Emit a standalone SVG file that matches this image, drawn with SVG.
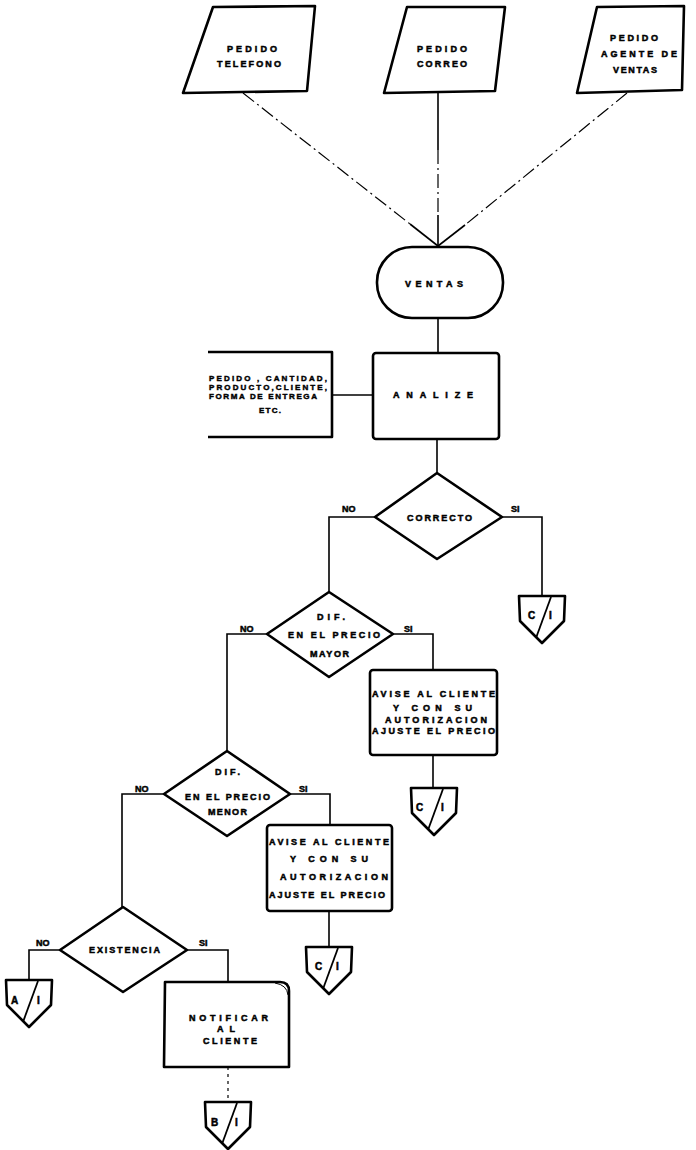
<svg xmlns="http://www.w3.org/2000/svg" xmlns:xlink="http://www.w3.org/1999/xlink" width="696" height="1150" viewBox="0 0 696 1150">
  <style>
    .shape { fill: #fff; stroke: #000; stroke-width: 2.6; stroke-linejoin: round; }
    .wire { fill: none; stroke: #000; stroke-width: 1.6; }
    .dash { fill: none; stroke: #000; stroke-width: 1.2; stroke-dasharray: 14 4 2 4; }
    .dot { fill: none; stroke: #000; stroke-width: 1.2; stroke-dasharray: 3 4; }
    .t { font-family: "Liberation Sans", Arial, sans-serif; font-weight: bold; font-size: 9px; fill: #000; stroke: #000; stroke-width: 0.5; }
    .s { font-family: "Liberation Sans", Arial, sans-serif; font-weight: bold; font-size: 8px; fill: #000; stroke: #000; stroke-width: 0.45; }
    .lbl { font-family: "Liberation Sans", Arial, sans-serif; font-weight: bold; font-size: 9px; fill: #000; stroke: #000; stroke-width: 0.5; }
    .k { font-family: "Liberation Sans", Arial, sans-serif; font-weight: bold; font-size: 10px; fill: #000; stroke: #000; stroke-width: 0.5; }
  </style>
  <defs>
    <!-- off-page connector: pentagon with a slash -->
    <g id="offpage">
      <path class="shape" d="M1,0 H47 L46,25 L24,47 L2,25 Z"/>
      <line x1="18" y1="42" x2="33" y2="1" stroke="#000" stroke-width="1.8"/>
    </g>
  </defs>

  <rect width="696" height="1150" fill="#fff"/>

  <!-- connectors -->
  <g id="connectors">
    <!-- order inputs converging on VENTAS -->
    <line class="dash" x1="243" y1="93" x2="410" y2="224"/>
    <line class="wire" x1="410" y1="224" x2="438" y2="246"/>
    <line class="wire" x1="438" y1="91" x2="438" y2="150"/>
    <line class="dash" x1="438" y1="150" x2="438" y2="215"/>
    <line class="wire" x1="438" y1="215" x2="438" y2="247"/>
    <line class="dash" x1="627" y1="93" x2="465" y2="225"/>
    <line class="wire" x1="465" y1="225" x2="438" y2="246"/>
    <!-- main flow -->
    <line class="wire" x1="438" y1="318" x2="438" y2="353"/>
    <line class="wire" x1="332" y1="395" x2="373" y2="395"/>
    <line class="wire" x1="437" y1="439" x2="437" y2="473"/>
    <!-- CORRECTO -->
    <polyline class="wire" points="375,517 329,517 329,592"/>
    <polyline class="wire" points="502,517 542,517 542,596"/>
    <!-- DIF. MAYOR -->
    <polyline class="wire" points="267,634 227,634 227,751"/>
    <polyline class="wire" points="393,634 433,634 433,670"/>
    <line class="wire" x1="433" y1="755" x2="433" y2="788"/>
    <!-- DIF. MENOR -->
    <polyline class="wire" points="164,794 122,794 122,907"/>
    <polyline class="wire" points="290,794 330,794 330,825"/>
    <line class="wire" x1="329" y1="911" x2="329" y2="947"/>
    <!-- EXISTENCIA -->
    <polyline class="wire" points="60,950 29,950 29,980"/>
    <polyline class="wire" points="187,950 228,950 228,982"/>
    <line class="dot" x1="228" y1="1067" x2="228" y2="1102"/>
  </g>

  <!-- order inputs -->
  <g id="pedido-telefono">
    <path class="shape" d="M213,7 L315,6 L307,91 L183,93 Z"/>
    <text class="t" x="227" y="52" textLength="50" lengthAdjust="spacing">PEDIDO</text>
    <text class="t" x="217" y="67" textLength="64" lengthAdjust="spacing">TELEFONO</text>
  </g>
  <g id="pedido-correo">
    <path class="shape" d="M407,7 L505,7 L495,91 L384,93 Z"/>
    <text class="t" x="417" y="52" textLength="50" lengthAdjust="spacing">PEDIDO</text>
    <text class="t" x="417" y="67" textLength="50" lengthAdjust="spacing">CORREO</text>
  </g>
  <g id="pedido-agente">
    <path class="shape" d="M597,7 L684,6 L682,90 L577,93 Z"/>
    <text class="t" x="610" y="41" textLength="48" lengthAdjust="spacing">PEDIDO</text>
    <text class="t" x="601" y="57" textLength="76" lengthAdjust="spacing">AGENTE DE</text>
    <text class="t" x="613" y="73" textLength="44" lengthAdjust="spacing">VENTAS</text>
  </g>

  <!-- VENTAS terminal -->
  <g id="ventas">
    <rect class="shape" x="377" y="247" width="126" height="71" rx="35" ry="35"/>
    <text class="t" x="405" y="287" textLength="58" lengthAdjust="spacing" font-size="10">VENTAS</text>
  </g>

  <!-- annotation -->
  <g id="datos-pedido">
    <path class="shape" d="M208,352 H332 V437 H208" fill="#fff"/>
    <text class="s" x="209" y="381" textLength="118" lengthAdjust="spacing">PEDIDO , CANTIDAD,</text>
    <text class="s" x="209" y="390" textLength="118" lengthAdjust="spacing">PRODUCTO,CLIENTE,</text>
    <text class="s" x="209" y="399" textLength="108" lengthAdjust="spacing">FORMA DE ENTREGA</text>
    <text class="s" x="259" y="413" textLength="22" lengthAdjust="spacing">ETC.</text>
  </g>

  <!-- ANALIZE -->
  <g id="analize">
    <rect class="shape" x="373" y="353" width="126" height="86" rx="3"/>
    <text class="t" x="393" y="398" textLength="80" lengthAdjust="spacing">ANALIZE</text>
  </g>

  <!-- CORRECTO decision -->
  <g id="correcto">
    <path class="shape" d="M437,473 L502,517 L437,559 L375,517 Z"/>
    <text class="t" x="407" y="521" textLength="65" lengthAdjust="spacing">CORRECTO</text>
    <text class="lbl" x="342" y="512">NO</text>
    <text class="lbl" x="511" y="512">SI</text>
  </g>
  <g id="conn-c1-a">
    <use xlink:href="#offpage" x="518" y="596"/>
    <text class="k" x="528" y="619">C</text>
    <text class="k" x="549" y="619">I</text>
  </g>

  <!-- DIF. EN EL PRECIO MAYOR -->
  <g id="dif-mayor">
    <path class="shape" d="M329,592 L393,634 L329,677 L267,634 Z"/>
    <text class="t" x="317" y="620" textLength="28" lengthAdjust="spacing">DIF.</text>
    <text class="t" x="288" y="638" textLength="92" lengthAdjust="spacing">EN EL PRECIO</text>
    <text class="t" x="310" y="657" textLength="39" lengthAdjust="spacing">MAYOR</text>
    <text class="lbl" x="240" y="632">NO</text>
    <text class="lbl" x="404" y="632">SI</text>
  </g>
  <g id="avise-mayor">
    <rect class="shape" x="370" y="670" width="127" height="85" rx="3"/>
    <text class="t" x="372" y="697" textLength="123" lengthAdjust="spacing">AVISE AL CLIENTE</text>
    <text class="t" x="393" y="711" textLength="79" lengthAdjust="spacing">Y CON SU</text>
    <text class="t" x="385" y="723" textLength="102" lengthAdjust="spacing">AUTORIZACION</text>
    <text class="t" x="372" y="734" textLength="123" lengthAdjust="spacing">AJUSTE EL PRECIO</text>
  </g>
  <g id="conn-c1-b">
    <use xlink:href="#offpage" x="410" y="788"/>
    <text class="k" x="416" y="811">C</text>
    <text class="k" x="441" y="811">I</text>
  </g>

  <!-- DIF. EN EL PRECIO MENOR -->
  <g id="dif-menor">
    <path class="shape" d="M227,751 L290,794 L227,836 L164,794 Z"/>
    <text class="t" x="215" y="775" textLength="25" lengthAdjust="spacing">DIF.</text>
    <text class="t" x="185" y="800" textLength="85" lengthAdjust="spacing">EN EL PRECIO</text>
    <text class="t" x="208" y="815" textLength="39" lengthAdjust="spacing">MENOR</text>
    <text class="lbl" x="135" y="792">NO</text>
    <text class="lbl" x="299" y="792">SI</text>
  </g>
  <g id="avise-menor">
    <rect class="shape" x="267" y="825" width="125" height="86" rx="3"/>
    <text class="t" x="269" y="845" textLength="120" lengthAdjust="spacing">AVISE  AL  CLIENTE</text>
    <text class="t" x="290" y="862" textLength="78" lengthAdjust="spacing">Y  CON  SU</text>
    <text class="t" x="280" y="880" textLength="108" lengthAdjust="spacing">AUTORIZACION</text>
    <text class="t" x="269" y="898" textLength="116" lengthAdjust="spacing">AJUSTE  EL  PRECIO</text>
  </g>
  <g id="conn-c1-c">
    <use xlink:href="#offpage" x="305" y="947"/>
    <text class="k" x="315" y="970">C</text>
    <text class="k" x="336" y="970">I</text>
  </g>

  <!-- EXISTENCIA decision -->
  <g id="existencia">
    <path class="shape" d="M123,907 L187,950 L123,992 L60,950 Z"/>
    <text class="t" x="89" y="953" textLength="71" lengthAdjust="spacing">EXISTENCIA</text>
    <text class="lbl" x="36" y="946">NO</text>
    <text class="lbl" x="199" y="946">SI</text>
  </g>
  <g id="conn-a1">
    <use xlink:href="#offpage" x="5" y="980"/>
    <text class="k" x="11" y="1004">A</text>
    <text class="k" x="37" y="1004">I</text>
  </g>
  <g id="notificar">
    <path class="shape" d="M165,982 H280 Q289,982 289,991 V1067 H164 Z"/>
    <path d="M275,983 Q287,985 288,995" fill="none" stroke="#000" stroke-width="1"/>
    <text class="t" x="189" y="1021" textLength="79" lengthAdjust="spacing">NOTIFICAR</text>
    <text class="t" x="217" y="1032" textLength="18" lengthAdjust="spacing">AL</text>
    <text class="t" x="203" y="1044" textLength="54" lengthAdjust="spacing">CLIENTE</text>
  </g>
  <g id="conn-b1">
    <use xlink:href="#offpage" x="204" y="1102"/>
    <text class="k" x="211" y="1126">B</text>
    <text class="k" x="235" y="1126">I</text>
  </g>
</svg>
